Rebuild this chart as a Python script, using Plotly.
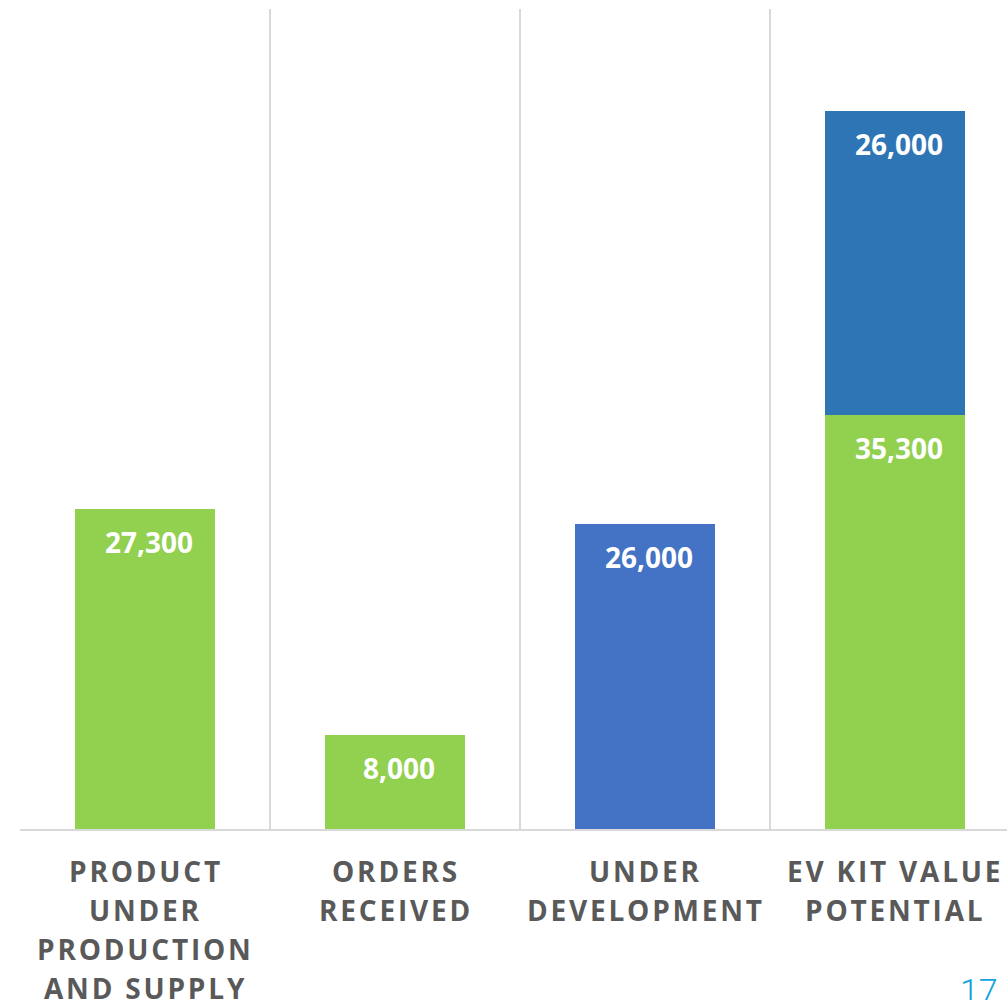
import plotly.graph_objects as go

categories = ["PRODUCT\nUNDER\nPRODUCTION\nAND SUPPLY", "ORDERS\nRECEIVED", "UNDER\nDEVELOPMENT", "EV KIT VALUE\nPOTENTIAL"]
green_values = [27300, 8000, None, 35300]
blue_values = [None, None, 26000, 26000]
blue_colors = ["#4472C4", "#4472C4", "#4472C4", "#2E75B6"]
page_number = "17"

HS = "\u200A"


def spaced(line):
    return HS.join(list(line))


fig = go.Figure()
fig.add_trace(go.Bar(x=categories, y=green_values, marker=dict(color="#92D050", line=dict(width=0)),
                     width=0.56, showlegend=False, hoverinfo="skip"))
fig.add_trace(go.Bar(x=categories, y=blue_values, marker=dict(color=blue_colors, line=dict(width=0)),
                     width=0.56, showlegend=False, hoverinfo="skip"))

label_font = dict(family="Open Sans", size=28, color="white", weight="bold")
for i, c in enumerate(categories):
    base = 0
    for vals in (green_values, blue_values):
        v = vals[i]
        if v is None:
            continue
        top = base + v
        fig.add_annotation(x=c, y=top, xref="x", yref="y", text=f"{v:,}", showarrow=False,
                           yanchor="middle", yshift=-33, xshift=4, font=label_font)
        base = top

# category labels, one annotation per line for exact line spacing
cat_font = dict(family="Open Sans", size=28, color="#595959", weight="bold")
for c in categories:
    for k, line in enumerate(c.split("\n")):
        fig.add_annotation(x=c, y=0, xref="x", yref="paper", text=spaced(line), showarrow=False,
                           yanchor="middle", yshift=-42 - 39 * k, xshift=-1, font=cat_font)

fig.add_annotation(x=0.9717, y=-0.171, xref="paper", yref="paper", xanchor="center", yanchor="top",
                   text=page_number, showarrow=False,
                   font=dict(family="Roboto", size=34, color="#12A3DD", weight=300))

fig.update_layout(
    width=1007, height=1000,
    margin=dict(l=20, r=0, t=9, b=171),
    barmode="stack",
    plot_bgcolor="white", paper_bgcolor="white",
)
fig.update_xaxes(
    type="category",
    range=[-0.5, -0.5 + 987 / 250],
    tickson="boundaries",
    showgrid=True, gridcolor="#D9D9D9", gridwidth=1.5,
    ticks="", showticklabels=False,
    showline=True, linecolor="#D9D9D9", linewidth=2,
    zeroline=False,
)
fig.update_yaxes(range=[0, 70000], showgrid=False, showticklabels=False, zeroline=False, ticks="")

fig.write_html("out.html", config={"displayModeBar": False, "staticPlot": True},
               post_script="document.body.style.margin='0';document.body.style.overflow='hidden';")
